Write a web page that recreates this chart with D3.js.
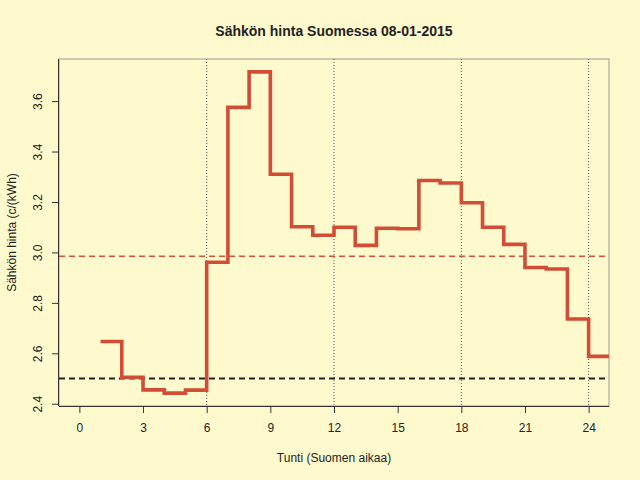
<!DOCTYPE html>
<html>
<head>
<meta charset="utf-8">
<script src="https://cdn.jsdelivr.net/npm/d3@7"></script>
<style>
  body { margin: 0; background: #fffacd; }
  text { font-family: "Liberation Sans", Arial, sans-serif; fill: #222; }
</style>
</head>
<body>
<div id="chart-area"></div>
<script>
// hinnat tunneittain (c/kWh)
var hours = [1, 2, 3, 4, 5, 6, 7, 8, 9, 10, 11, 12, 13, 14, 15, 16, 17, 18, 19, 20, 21, 22, 23, 24];
var prices = [2.647, 2.505, 2.455, 2.442, 2.454, 2.961, 3.575, 3.716, 3.310, 3.102, 3.068, 3.100,
              3.028, 3.096, 3.094, 3.285, 3.275, 3.197, 3.100, 3.032, 2.940, 2.934, 2.736, 2.588];
var xTicks = [0, 3, 6, 9, 12, 15, 18, 21, 24];
var yTicks = [2.4, 2.6, 2.8, 3.0, 3.2, 3.4, 3.6];
var guideHours = [6, 12, 18, 24];
var refLevel = 2.5;

var margin = {top: 59, right: 31, bottom: 74, left: 59};
var width = 640 - margin.left - margin.right;
var height = 480 - margin.top - margin.bottom;

var svg = d3.select("#chart-area").append("svg")
    .attr("width", 640)
    .attr("height", 480)
    .style("background", "#fffacd");

var g = svg.append("g")
    .attr("transform", "translate(" + margin.left + ", " + margin.top + ")");

// R style 4% padding
var x = d3.scaleLinear().domain([-0.96, 24.96]).range([0, width]);
var yMin = d3.min(prices), yMax = d3.max(prices);
var pad = (yMax - yMin) * 0.04;
var y = d3.scaleLinear().domain([yMin - pad, yMax + pad]).range([height, 0]);

svg.append("clipPath").attr("id", "plot-clip")
  .append("rect").attr("width", width).attr("height", height);

// box
g.append("rect")
  .attr("width", width).attr("height", height)
  .attr("fill", "none").attr("stroke", "#9a9a92").attr("stroke-width", 1);

var plot = g.append("g").attr("clip-path", "url(#plot-clip)");

// pystyviivat 6 tunnin välein
plot.selectAll(".guide").data(guideHours).enter().append("line")
  .attr("class", "guide")
  .attr("x1", d => x(d)).attr("x2", d => x(d))
  .attr("y1", 0).attr("y2", height)
  .attr("stroke", "#555").attr("stroke-width", 1)
  .attr("stroke-dasharray", "1,2");

// keskiarvo
var mean = d3.mean(prices);
plot.append("line")
  .attr("x1", 0).attr("x2", width)
  .attr("y1", y(mean)).attr("y2", y(mean))
  .attr("stroke", "#d8503a").attr("stroke-width", 1.5)
  .attr("stroke-dasharray", "6,4");

plot.append("line")
  .attr("x1", 0).attr("x2", width)
  .attr("y1", y(refLevel)).attr("y2", y(refLevel))
  .attr("stroke", "#222").attr("stroke-width", 1.8)
  .attr("stroke-dasharray", "6,4");

// porrasviiva
var steps = hours.map((h, i) => [h, prices[i]]);
steps.push([hours[hours.length - 1] + 1, prices[prices.length - 1]]);

var line = d3.line()
  .x(d => x(d[0]))
  .y(d => y(d[1]))
  .curve(d3.curveStepAfter);

plot.append("path")
  .datum(steps)
  .attr("d", line)
  .attr("fill", "none")
  .attr("stroke", "#d24c36")
  .attr("stroke-width", 3.6)
  .attr("stroke-linejoin", "miter")
  .attr("stroke-linecap", "butt");

// akselit
var xAxis = g.append("g")
  .attr("transform", "translate(0, " + height + ")")
  .call(d3.axisBottom(x).tickValues(xTicks).tickSize(7).tickPadding(10));
xAxis.select(".domain").attr("d", "M0,0.5H" + width).attr("stroke", "#333");
xAxis.selectAll(".tick line").attr("stroke", "#333");
xAxis.selectAll("text").attr("font-size", "12px").style("fill", "#222");

var yAxis = g.append("g")
  .call(d3.axisLeft(y).tickValues(yTicks).tickSize(7).tickFormat(d3.format(".1f")));
yAxis.select(".domain").attr("d", "M-0.5,0V" + height).attr("stroke", "#333");
yAxis.selectAll(".tick line").attr("stroke", "#333");
yAxis.selectAll("text")
  .attr("font-size", "12px")
  .attr("text-anchor", "middle")
  .attr("x", 0).attr("dy", 0)
  .attr("transform", "translate(-17,0) rotate(-90)")
  .style("fill", "#222");

// otsikot
svg.append("text")
  .attr("x", margin.left + width / 2)
  .attr("y", 36)
  .attr("text-anchor", "middle")
  .attr("font-size", "14px")
  .attr("font-weight", "bold")
  .text("Sähkön hinta Suomessa 08-01-2015");

svg.append("text")
  .attr("x", margin.left + width / 2)
  .attr("y", 462)
  .attr("text-anchor", "middle")
  .attr("font-size", "12px")
  .text("Tunti (Suomen aikaa)");

svg.append("text")
  .attr("transform", "rotate(-90)")
  .attr("x", -(margin.top + height / 2))
  .attr("y", 16)
  .attr("text-anchor", "middle")
  .attr("font-size", "12px")
  .text("Sähkön hinta (c/(kWh)");
</script>
</body>
</html>
